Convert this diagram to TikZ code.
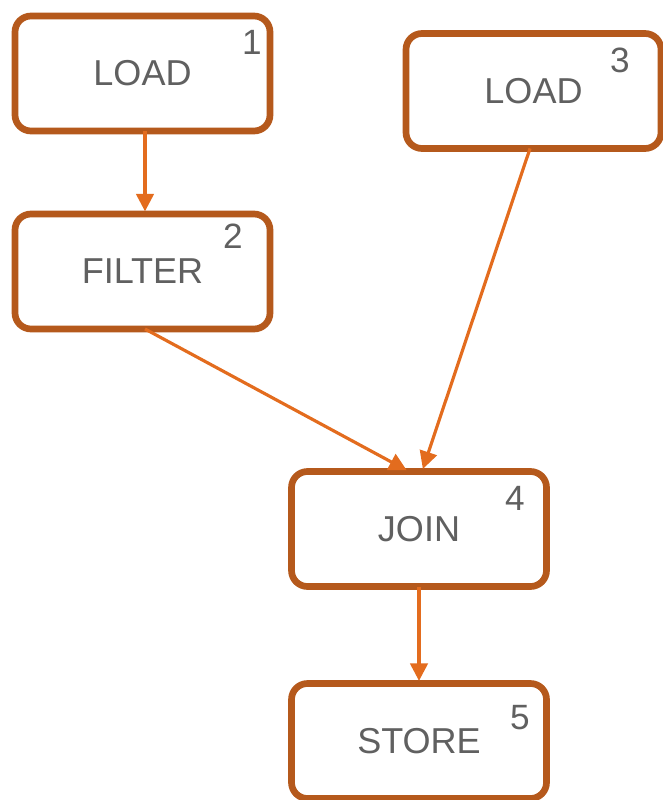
\documentclass[tikz,border=0pt]{standalone}
\usepackage{fontspec}
\setmainfont{Liberation Sans}
\usepackage{tikz}
\usetikzlibrary{calc, positioning, arrows.meta}

\definecolor{boxedge}{HTML}{B5591C}
\definecolor{flowline}{HTML}{E36C1E}
\definecolor{labelgray}{HTML}{606060}

\begin{document}
\begin{tikzpicture}[
        opbox/.style={draw=boxedge, line width=3.8pt, rounded corners=0.32cm, fill=white,
            minimum width=5.1cm, minimum height=2.3cm, outer sep=0pt,
            text=labelgray, font=\fontsize{20.5}{24}\selectfont},
        opnum/.style={text=labelgray, font=\fontsize{20}{24}\selectfont, inner sep=0pt},
        flow/.style={draw=flowline, line width=1.8pt, -{Triangle[length=10pt, width=10pt]}, shorten >=1.5pt}
    ]
    \useasboundingbox (0,0) rectangle (13.26,-16);

    \node[opbox] (load1)  at (2.85,-1.47)  {LOAD};
    \node[opbox] (filter) at (2.85,-5.43)  {FILTER};
    \node[opbox] (load3)  at (10.67,-1.82) {LOAD};
    \node[opbox] (join)   at (8.38,-10.58) {JOIN};
    \node[opbox] (store)  at (8.38,-14.82) {STORE};

    \node[opnum] (num1) at (5.04,-0.84)  {1};
    \node[opnum] (num2) at (4.66,-4.72)  {2};
    \node[opnum] (num3) at (12.4,-1.2)   {3};
    \node[opnum] (num4) at (10.3,-9.96)  {4};
    \node[opnum] (num5) at (10.4,-14.36) {5};

    \draw[flow] ([xshift=0.05cm]load1.south) -- ([xshift=0.05cm]filter.north);
    \draw[flow] ([xshift=0.05cm]filter.south) -- ([xshift=-0.2cm]join.north);
    \draw[flow] ([xshift=-0.07cm]load3.south) -- ([xshift=0.06cm]join.north);
    \draw[flow] (join.south) -- (store.north);
\end{tikzpicture}
\end{document}
